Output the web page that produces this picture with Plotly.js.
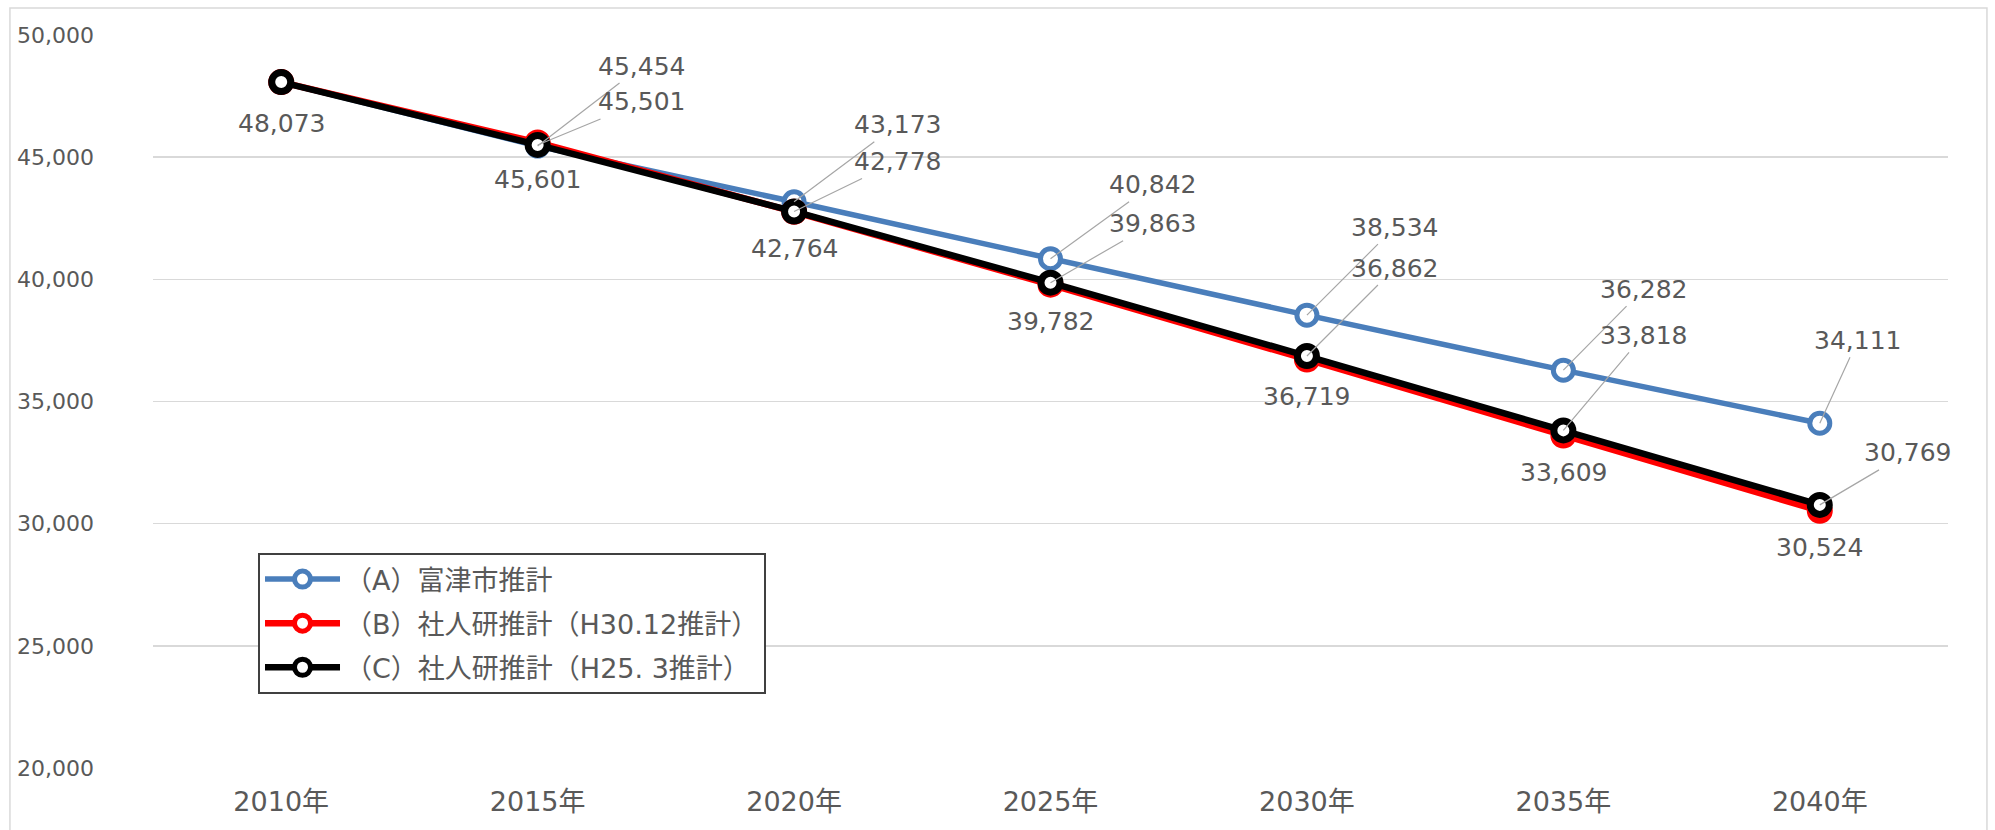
<!DOCTYPE html>
<html>
<head>
<meta charset="utf-8">
<script src="https://cdn.plot.ly/plotly-3.0.1.min.js"></script>
<style>html,body{margin:0;padding:0;background:#fff;}#chart{width:1995px;height:830px;}</style>
</head>
<body>
<div id="chart"></div>
<script>
// ---- data ----
const years = ['2010年', '2015年', '2020年', '2025年', '2030年', '2035年', '2040年'];
const nameA = '（A）富津市推計';
const nameB = '（B）社人研推計（H30.12推計）';
const nameC = '（C）社人研推計（H25. 3推計）';
const seriesA = [48073, 45454, 43173, 40842, 38534, 36282, 34111];
const seriesB = [48073, 45601, 42764, 39782, 36719, 33609, 30524];
const seriesC = [48073, 45501, 42778, 39863, 36862, 33818, 30769];
const yTicks = [20000, 25000, 30000, 35000, 40000, 45000, 50000];

// ---- label placement (pixel offsets, style only) ----
const offA = [null, [104, -80], [103, -77], [102, -74], [88, -88], [80, -81], [38, -83]];
const offC = [null, [104, -43], [103, -50], [102, -59], [88, -88], [80, -95], [88, -52]];
const shiftB = [-41, -37, -37, -37, -37, -37, -37];

const FONT = 'DejaVu Sans, Noto Sans CJK JP, sans-serif';
const GREY = '#595959';
const fmt = v => v.toLocaleString('en-US');

const colA = '#4A7EBB', colB = '#FF0000', colC = '#000000';

const traces = [
  {x: years, y: seriesA, name: nameA, type: 'scatter', mode: 'lines+markers', legendgroup: 'a',
   line: {color: colA, width: 5.5},
   marker: {symbol: 'circle', size: 20, color: '#FFFFFF', line: {color: colA, width: 5}}},
  {x: years, y: seriesB, name: nameB, type: 'scatter', mode: 'lines+markers', legendgroup: 'b',
   line: {color: colB, width: 6.5},
   marker: {symbol: 'circle', size: 19, color: '#FFFFFF', line: {color: colB, width: 7}}},
  {x: years, y: seriesC, name: nameC, type: 'scatter', mode: 'lines+markers', legendgroup: 'c',
   line: {color: colC, width: 6.5},
   marker: {symbol: 'circle', size: 19, color: '#FFFFFF', line: {color: colC, width: 7}}}
];

const annotations = [];
function leader(x, y, off) {
  annotations.push({x: x, y: y, xref: 'x', yref: 'y', text: fmt(y), showarrow: true,
    ax: off[0], ay: off[1], axref: 'pixel', ayref: 'pixel',
    arrowhead: 0, arrowwidth: 1.2, arrowcolor: '#A6A6A6', standoff: 0, startstandoff: 0, borderpad: 2,
    font: {family: FONT, size: 25, color: GREY}});
}
years.forEach((yr, i) => {
  if (offA[i]) leader(yr, seriesA[i], offA[i]);
  if (offC[i]) leader(yr, seriesC[i], offC[i]);
  annotations.push({x: yr, y: seriesB[i], xref: 'x', yref: 'y', text: fmt(seriesB[i]), showarrow: false,
    yshift: shiftB[i], xanchor: 'center', yanchor: 'middle',
    font: {family: FONT, size: 25, color: GREY}});
});

const layout = {
  width: 1995, height: 830,
  margin: {l: 153, r: 47, t: 35, b: 62},
  paper_bgcolor: '#FFFFFF', plot_bgcolor: '#FFFFFF',
  font: {family: FONT, color: GREY, size: 24},
  showlegend: true,
  xaxis: {type: 'category', range: [-0.5, 6.5], showgrid: false, zeroline: false, showline: false,
    ticks: '', tickfont: {family: FONT, size: 27, color: GREY}, ticklabelstandoff: 15, fixedrange: true},
  yaxis: {range: [20000, 50000], tickvals: yTicks, tickformat: ',d', showgrid: true,
    gridcolor: '#D9D9D9', gridwidth: 1.5, zeroline: false, showline: false, ticks: '',
    tickfont: {family: FONT, size: 22, color: GREY}, ticklabelstandoff: 58, fixedrange: true},
  legend: {x: 0.0585, y: 0.2933, xanchor: 'left', yanchor: 'top', xref: 'paper', yref: 'paper',
    bgcolor: '#FFFFFF', bordercolor: '#404040', borderwidth: 2,
    font: {family: FONT, size: 27, color: GREY}, traceorder: 'grouped', tracegroupgap: 6,
    itemwidth: 75},
  shapes: [{type: 'rect', xref: 'paper', yref: 'paper', x0: -0.0797, x1: 1.0217, y0: -0.2, y1: 1.0368,
    line: {color: '#D9D9D9', width: 1.5}, fillcolor: 'rgba(0,0,0,0)', layer: 'below'}],
  annotations: annotations
};

Plotly.newPlot('chart', traces, layout, {displayModeBar: false, staticPlot: true});
</script>
</body>
</html>
